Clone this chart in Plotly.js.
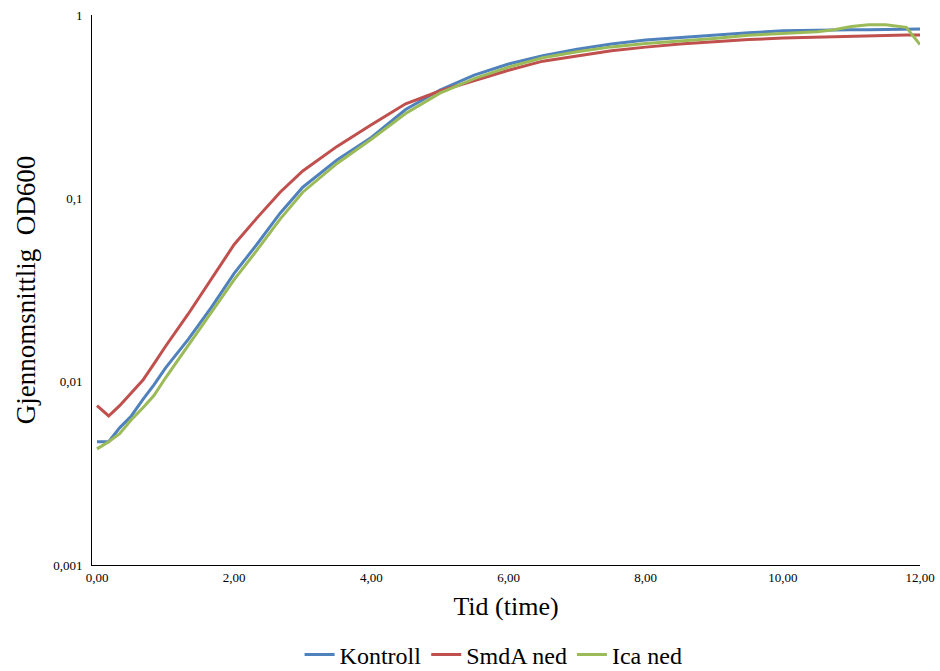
<!DOCTYPE html>
<html>
<head>
<meta charset="utf-8">
<script src="https://cdn.plot.ly/plotly-3.0.1.min.js"></script>
<style>html,body{margin:0;padding:0;background:#fff;}#chart{width:940px;height:671px;}</style>
</head>
<body>
<div id="chart"></div>
<script>
var time = [0, 0.17, 0.33, 0.5, 0.67, 0.83, 1.0, 1.33, 1.67, 2.0, 2.33, 2.67, 3.0, 3.5, 4.0, 4.5, 5.0, 5.5, 6.0, 6.5, 7.0, 7.5, 8.0, 8.5, 9.0, 9.5, 10.0, 10.5, 10.75, 11.0, 11.25, 11.5, 11.8, 12.0];
var kontroll = [0.0047, 0.0047, 0.0056, 0.0065, 0.0080, 0.0096, 0.0119, 0.017, 0.0255, 0.039, 0.056, 0.083, 0.115, 0.162, 0.215, 0.305, 0.39, 0.47, 0.54, 0.60, 0.65, 0.695, 0.73, 0.755, 0.775, 0.80, 0.82, 0.828, 0.829, 0.83, 0.832, 0.835, 0.837, 0.839];
var smdA = [0.0074, 0.0065, 0.0074, 0.0087, 0.0102, 0.0125, 0.0156, 0.0234, 0.0363, 0.056, 0.078, 0.108, 0.141, 0.192, 0.252, 0.328, 0.385, 0.44, 0.50, 0.56, 0.60, 0.638, 0.668, 0.695, 0.715, 0.735, 0.748, 0.756, 0.76, 0.77, 0.775, 0.778, 0.778, 0.778];
var ica = [0.0043, 0.0047, 0.0052, 0.0062, 0.0072, 0.0084, 0.0105, 0.0158, 0.024, 0.036, 0.052, 0.077, 0.108, 0.155, 0.21, 0.29, 0.375, 0.45, 0.52, 0.585, 0.63, 0.67, 0.70, 0.72, 0.745, 0.775, 0.795, 0.81, 0.83, 0.865, 0.885, 0.885, 0.857, 0.69];
var seriesNames = ["Kontroll", "SmdA ned", "Ica ned"];
var xTickVals = [0, 2, 4, 6, 8, 10, 12];
var xTickText = ["0,00", "2,00", "4,00", "6,00", "8,00", "10,00", "12,00"];
var yTickVals = [0.001, 0.01, 0.1, 1];
var yTickText = ["0,001", "0,01", "0,1", "1"];

var colors = ["#4F81BD", "#C0504D", "#9BBB59"];
var ys = [kontroll, smdA, ica];
var traces = ys.map(function(y, i) {
  return {x: time, y: y, name: seriesNames[i], type: "scatter", mode: "lines",
          line: {color: colors[i], width: 3}};
});
var font = "Liberation Serif";
var layout = {
  width: 940, height: 671,
  margin: {l: 92, r: 20, t: 15, b: 106},
  paper_bgcolor: "#fff", plot_bgcolor: "#fff",
  font: {family: font, color: "#000"},
  showlegend: true,
  legend: {orientation: "h", x: 0.485, xanchor: "center", xref: "paper",
           y: 0.024, yanchor: "middle", yref: "container",
           font: {size: 24, family: font}, itemwidth: 30, tracegroupgap: 0},
  xaxis: {range: [-0.073, 12.0], tickvals: xTickVals, ticktext: xTickText,
          showgrid: false, zeroline: false, showline: true, linecolor: "#000", linewidth: 1,
          ticks: "", tickfont: {size: 13, family: font},
          title: {text: "Tid (time)", font: {size: 26, family: font}, standoff: 13}},
  yaxis: {type: "log", range: [-3, 0], tickvals: yTickVals, ticktext: yTickText,
          showgrid: false, zeroline: false, showline: true, linecolor: "#000", linewidth: 1,
          ticks: "", tickfont: {size: 13, family: font}, ticklabelstandoff: 6,
          title: {text: "Gjennomsnittlig  OD600", font: {size: 27, family: font}, standoff: 9}}
};
Plotly.newPlot("chart", traces, layout, {displayModeBar: false, staticPlot: true});
</script>
</body>
</html>
